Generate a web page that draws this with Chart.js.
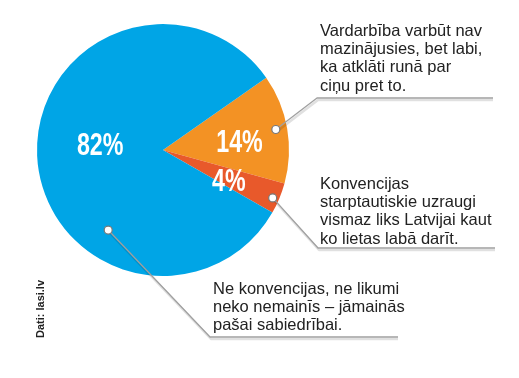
<!DOCTYPE html>
<html>
<head>
<meta charset="utf-8">
<script src="https://cdn.jsdelivr.net/npm/chart.js@4"></script>
<style>
  html, body { margin: 0; padding: 0; background: #fff; }
  #wrap { width: 519px; height: 378px; position: relative; }
</style>
</head>
<body>
<div id="wrap"><canvas id="chart"></canvas></div>
<script>
// data
const categories = [
  'Vardarbība varbūt nav mazinājusies, bet labi, ka atklāti runā par ciņu pret to.',
  'Konvencijas starptautiskie uzraugi vismaz liks Latvijai kaut ko lietas labā darīt.',
  'Ne konvencijas, ne likumi neko nemainīs – jāmainās pašai sabiedrībai.'
];
const shares = [14, 4, 82];
const calloutLines = [
  ['Vardarbība varbūt nav', 'mazinājusies, bet labi,', 'ka atklāti runā par', 'ciņu pret to.'],
  ['Konvencijas', 'starptautiskie uzraugi', 'vismaz liks Latvijai kaut', 'ko lietas labā darīt.'],
  ['Ne konvencijas, ne likumi', 'neko nemainīs – jāmainās', 'pašai sabiedrībai.']
];
const sourceText = 'Dati: lasi.lv';

const colors = ['#f39224', '#e8592b', '#00a5e6'];

// layout of labels and leader lines (style, not data)
const pctPos = [   // radius fraction, angle shift (deg) from slice middle
  { r: 0.61, shift: 4 },
  { r: 0.58, shift: 3 },
  { r: 0.50, shift: 7 }
];
const dotPos = [   // where the leader dot sits on the slice
  { r: 0.91, shift: -0.5 },
  { r: 0.95, shift: 1 },
  { r: 0.77, shift: -53 }
];
const callout = [
  { elbow: [317, 98], end: 493, textX: 320, textY: 23 },
  { elbow: [318, 248], end: 495, textX: 320, textY: 176 },
  { elbow: [210, 337], end: 398, textX: 213, textY: 281 }
];

const rad = d => d * Math.PI / 180;

const calloutPlugin = {
  id: 'callouts',
  afterDatasetsDraw(chart) {
    const ctx = chart.ctx;
    const arcs = chart.getDatasetMeta(0).data;
    ctx.save();

    arcs.forEach((arc, i) => {
      const { x, y, startAngle, endAngle, outerRadius } = arc.getProps(['x', 'y', 'startAngle', 'endAngle', 'outerRadius'], true);
      const mid = (startAngle + endAngle) / 2;

      // percentage label
      const pa = mid + rad(pctPos[i].shift);
      const px = x + Math.cos(pa) * outerRadius * pctPos[i].r;
      const py = y + Math.sin(pa) * outerRadius * pctPos[i].r;
      ctx.save();
      ctx.translate(px, py);
      ctx.scale(0.75, 1);
      ctx.fillStyle = '#fff';
      ctx.font = 'bold 31px "Liberation Sans Narrow", "Liberation Sans", sans-serif';
      ctx.textAlign = 'center';
      ctx.textBaseline = 'middle';
      ctx.fillText(shares[i] + '%', 0, 1);
      ctx.restore();

      // leader line from dot to elbow to end
      const da = mid + rad(dotPos[i].shift);
      const dx = x + Math.cos(da) * outerRadius * dotPos[i].r;
      const dy = y + Math.sin(da) * outerRadius * dotPos[i].r;
      const c = callout[i];
      ctx.lineJoin = 'round';
      // soft shadow
      ctx.strokeStyle = 'rgba(0,0,0,0.12)';
      ctx.lineWidth = 2.5;
      ctx.beginPath();
      ctx.moveTo(dx + 1, dy + 2);
      ctx.lineTo(c.elbow[0] + 1, c.elbow[1] + 2);
      ctx.lineTo(c.end, c.elbow[1] + 2);
      ctx.stroke();
      ctx.strokeStyle = '#a0a0a0';
      ctx.lineWidth = 1.3;
      ctx.beginPath();
      ctx.moveTo(dx, dy);
      ctx.lineTo(c.elbow[0], c.elbow[1]);
      ctx.lineTo(c.end, c.elbow[1]);
      ctx.stroke();

      // dot
      ctx.beginPath();
      ctx.arc(dx, dy, 4, 0, Math.PI * 2);
      ctx.fillStyle = '#fff';
      ctx.fill();
      ctx.strokeStyle = '#777';
      ctx.lineWidth = 1.2;
      ctx.stroke();

      // callout text
      ctx.fillStyle = '#222';
      ctx.font = '16.5px "Liberation Sans", sans-serif';
      ctx.textAlign = 'left';
      ctx.textBaseline = 'top';
      calloutLines[i].forEach((line, k) => {
        ctx.fillText(line, c.textX, c.textY + k * 18.3);
      });
    });

    // source, rotated
    ctx.save();
    ctx.translate(41, 309);
    ctx.rotate(-Math.PI / 2);
    ctx.fillStyle = '#222';
    ctx.font = 'bold 11px "Liberation Sans Narrow", "Liberation Sans", sans-serif';
    ctx.textAlign = 'center';
    ctx.textBaseline = 'middle';
    ctx.fillText(sourceText, 0, 0);
    ctx.restore();

    ctx.restore();
  }
};

new Chart(document.getElementById('chart'), {
  type: 'pie',
  data: {
    labels: categories,
    datasets: [{
      data: shares,
      backgroundColor: colors,
      borderWidth: 0
    }]
  },
  options: {
    responsive: true,
    maintainAspectRatio: false,
    animation: false,
    rotation: 55,
    layout: { padding: { left: 37, top: 24, right: 230, bottom: 102 } },
    plugins: {
      legend: { display: false },
      tooltip: { enabled: false }
    }
  },
  plugins: [calloutPlugin]
});
</script>
</body>
</html>
